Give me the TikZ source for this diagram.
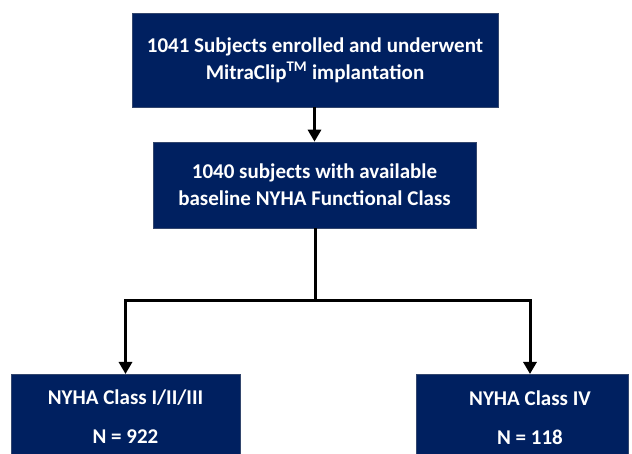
\documentclass[tikz,border=0pt]{standalone}
\usepackage{fontspec}
\setmainfont{Carlito}
\usetikzlibrary{arrows.meta}
\definecolor{navy}{HTML}{002060}
\tikzset{
  box/.style={draw=navy!60!gray, line width=0.6pt, fill=navy, text=white, font=\bfseries\fontsize{21}{27}\selectfont, align=center, inner sep=0pt},
  lbl/.style={text=white, font=\bfseries\fontsize{21}{27}\selectfont},
  conn/.style={line width=3pt, -{Triangle[width=13pt,length=12pt]}},
  plain/.style={line width=3pt}
}
\begin{document}
\begin{tikzpicture}[x=1pt,y=-1pt]
\useasboundingbox (0,0) rectangle (632,454);
\begin{scope}
\clip (0,0) rectangle (632,454);
\node[box, minimum width=366pt, minimum height=94pt] (top) at (315,60) {1041 Subjects enrolled and underwent\\MitraClip\textsuperscript{TM} implantation};
\node[box, minimum width=323pt, minimum height=86pt] (mid) at (314.5,185) {1040 subjects with available\\baseline NYHA Functional Class};
\node[box, minimum width=229pt, minimum height=100pt, anchor=north west] (left) at (11,374) {};
\node[box, minimum width=212pt, minimum height=100pt, anchor=north west] (right) at (416,374) {};
\node[lbl] (l1) at (125.5,398) {NYHA Class I/II/III};
\node[lbl] (l2) at (125.5,437) {N = 922};
\node[lbl] (r1) at (530,398) {NYHA Class IV};
\node[lbl] (r2) at (530,437) {N = 118};
\end{scope}
\coordinate (split) at (315,301);
\draw[conn] (top.south -| mid.north) -- (mid.north);
\draw[plain] (315,228) -- (split);
\draw[conn] (split) -| (left.north -| l1.center);
\draw[conn] (split) -| (right.north -| r1.center);
\end{tikzpicture}
\end{document}
